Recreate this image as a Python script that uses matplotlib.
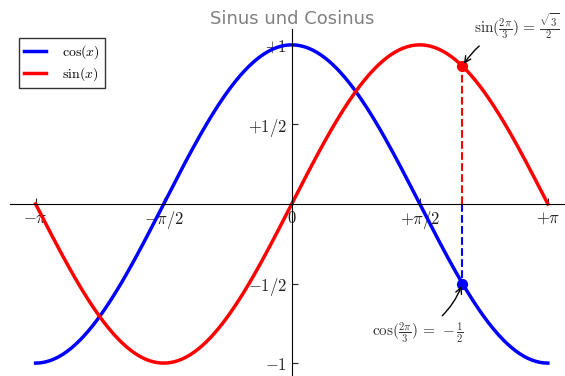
import numpy as np
import matplotlib.pyplot as plt

plt.rcParams['mathtext.fontset'] = 'cm'

# curves
X = np.linspace(-np.pi, np.pi, 256)
C = np.cos(X)
S = np.sin(X)

xticks = [-np.pi, -np.pi/2, 0, np.pi/2, np.pi]
xticklabels = [r'$-\pi$', r'$-\pi/2$', r'$0$', r'$+\pi/2$', r'$+\pi$']
yticks = [-1, -0.5, 0.5, 1]
yticklabels = [r'$-1$', r'$-1/2$', r'$+1/2$', r'$+1$']

t = 2 * np.pi / 3

fig = plt.figure(figsize=(5.65, 3.76), dpi=100)
ax = fig.add_axes([0.0177, -0.008, 0.9973, 0.931])

ax.plot(X, C, color='blue', linewidth=2.5, linestyle='-', label=r'$\cos(x)$')
ax.plot(X, S, color='red', linewidth=2.5, linestyle='-', label=r'$\sin(x)$')

ax.set_xlim(X.min() * 1.1, X.max() * 1.1)
ax.set_ylim(C.min() * 1.1, C.max() * 1.1)
ax.set_xticks(xticks)
ax.set_xticklabels(xticklabels)
ax.set_yticks(yticks)
ax.set_yticklabels(yticklabels)

# move spines to the origin
ax.spines['right'].set_color('none')
ax.spines['top'].set_color('none')
ax.xaxis.set_ticks_position('bottom')
ax.spines['bottom'].set_position(('data', 0))
ax.yaxis.set_ticks_position('left')
ax.spines['left'].set_position(('data', 0))
ax.tick_params(direction='in', length=4, labelsize=12, colors='#222222')

# annotate 2pi/3
ax.plot([t, t], [0, np.cos(t)], color='blue', linewidth=1.5, linestyle='--')
ax.scatter([t], [np.cos(t)], 50, color='blue', zorder=3)
ax.annotate(r'$\cos(\frac{2\pi}{3})\,=\,-\frac{1}{2}$',
            xy=(t, np.cos(t)), xycoords='data',
            xytext=(-65, -38), textcoords='offset points', fontsize=11,
            color='#333333',
            arrowprops=dict(arrowstyle='->', connectionstyle='arc3,rad=.2'))

ax.plot([t, t], [0, np.sin(t)], color='red', linewidth=1.5, linestyle='--')
ax.scatter([t], [np.sin(t)], 50, color='red', zorder=3)
ax.annotate(r'$\sin(\frac{2\pi}{3})\,=\,\frac{\sqrt{3}}{2}$',
            xy=(t, np.sin(t)), xycoords='data',
            xytext=(+8, +24), textcoords='offset points', fontsize=11,
            color='#333333',
            arrowprops=dict(arrowstyle='->', connectionstyle='arc3,rad=.2'))

for label in ax.get_xticklabels() + ax.get_yticklabels():
    label.set_bbox(dict(facecolor='white', edgecolor='None', alpha=0.65))

ax.legend(loc='upper left', bbox_to_anchor=(0.033, 0.9), bbox_transform=fig.transFigure,
          fontsize=10, frameon=True, fancybox=False, edgecolor='black',
          borderpad=0.4, handlelength=1.6, handletextpad=1.1, borderaxespad=0,
          labelspacing=0.3)

fig.text(0.517, 0.95, 'Sinus und Cosinus', ha='center', va='center',
         fontsize=13, color='gray')

plt.savefig('out.png', dpi=100)
